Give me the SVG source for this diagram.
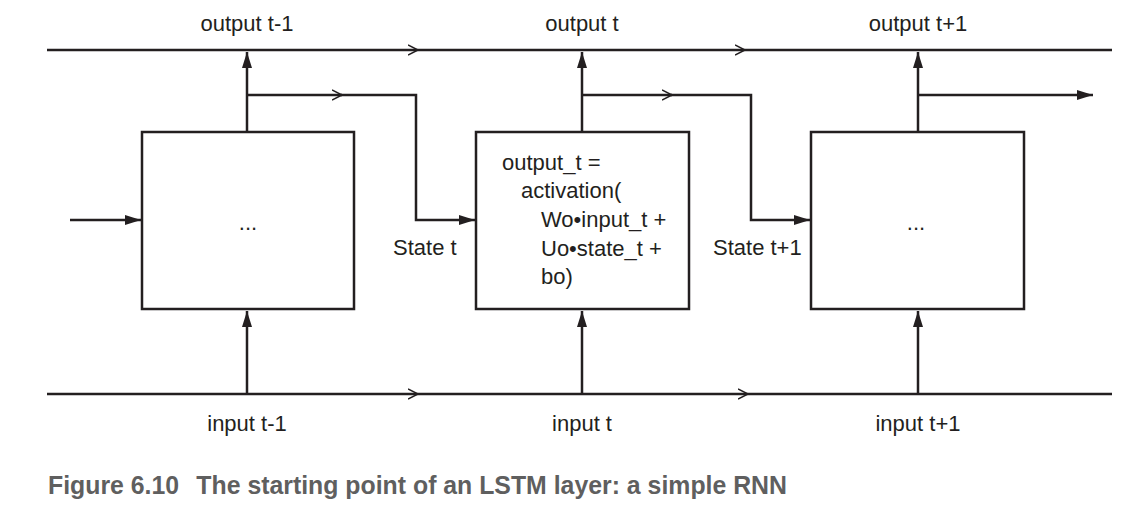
<svg xmlns="http://www.w3.org/2000/svg" width="1148" height="518" viewBox="0 0 1148 518">
<defs>
<style>
.ln{fill:none;stroke:#231f20;stroke-width:2.5}
.box{fill:#fff;stroke:#231f20;stroke-width:2.5}
.t{font-family:"Liberation Sans",Arial,sans-serif;font-size:22px;fill:#231f20}
.c{text-anchor:middle}
.cap{font-family:"Liberation Sans Narrow","Liberation Sans",Arial,sans-serif;font-weight:bold;font-size:26px;fill:#5f5f5f}
</style>
<marker id="ah" markerWidth="16" markerHeight="10" refX="16" refY="5" orient="auto" markerUnits="userSpaceOnUse">
<path d="M0,0 L16,5 L0,10 Z" fill="#231f20"/>
</marker>
<marker id="ch" markerWidth="12" markerHeight="12" refX="10" refY="6" orient="auto" markerUnits="userSpaceOnUse">
<path d="M0,1 L10,6 L0,11" fill="none" stroke="#231f20" stroke-width="1.5"/>
</marker>
</defs>
<rect width="1148" height="518" fill="#fff"/>
<g id="connectors">
<path class="ln" d="M47,50 L418,50 L745,50 L1112,50" marker-mid="url(#ch)"/>
<path class="ln" d="M47,394 L418,394 L748,394 L1112,394" marker-mid="url(#ch)"/>
<line class="ln" x1="247" y1="132" x2="247" y2="52" marker-end="url(#ah)"/>
<line class="ln" x1="582" y1="132" x2="582" y2="52" marker-end="url(#ah)"/>
<line class="ln" x1="918" y1="132" x2="918" y2="52" marker-end="url(#ah)"/>
<line class="ln" x1="247" y1="95" x2="342" y2="95" marker-end="url(#ch)"/>
<path class="ln" d="M341,95 L416,95 L416,220 L475,220" marker-end="url(#ah)"/>
<line class="ln" x1="582" y1="95" x2="672" y2="95" marker-end="url(#ch)"/>
<path class="ln" d="M671,95 L751,95 L751,220 L810,220" marker-end="url(#ah)"/>
<line class="ln" x1="918" y1="95" x2="1093" y2="95" marker-end="url(#ah)"/>
<line class="ln" x1="70" y1="220" x2="141" y2="220" marker-end="url(#ah)"/>
<line class="ln" x1="247" y1="394" x2="247" y2="311" marker-end="url(#ah)"/>
<line class="ln" x1="582" y1="394" x2="582" y2="311" marker-end="url(#ah)"/>
<line class="ln" x1="918" y1="394" x2="918" y2="311" marker-end="url(#ah)"/>
</g>
<g id="node-prev">
<rect class="box" x="142" y="132" width="212" height="177"/>
<text class="t c" x="248" y="230">...</text>
</g>
<g id="node-current">
<rect class="box" x="476" y="132" width="213" height="177"/>
<text class="t" x="502" y="170">output_t =</text>
<text class="t" x="521" y="198">activation(</text>
<text class="t" x="541" y="227">Wo•input_t +</text>
<text class="t" x="541" y="256">Uo•state_t +</text>
<text class="t" x="541" y="284">bo)</text>
</g>
<g id="node-next">
<rect class="box" x="811" y="132" width="213" height="177"/>
<text class="t c" x="916" y="230">...</text>
</g>
<g id="labels">
<text class="t c" x="247" y="31">output t-1</text>
<text class="t c" x="582" y="31">output t</text>
<text class="t c" x="918" y="31">output t+1</text>
<text class="t c" x="247" y="431">input t-1</text>
<text class="t c" x="582" y="431">input t</text>
<text class="t c" x="918" y="431">input t+1</text>
<text class="t" x="393" y="255">State t</text>
<text class="t" x="713" y="255">State t+1</text>
</g>
<text class="cap" x="48" y="494" textLength="739" lengthAdjust="spacingAndGlyphs">Figure 6.10<tspan dx="18">The starting point of an LSTM layer: a simple RNN</tspan></text>
</svg>
